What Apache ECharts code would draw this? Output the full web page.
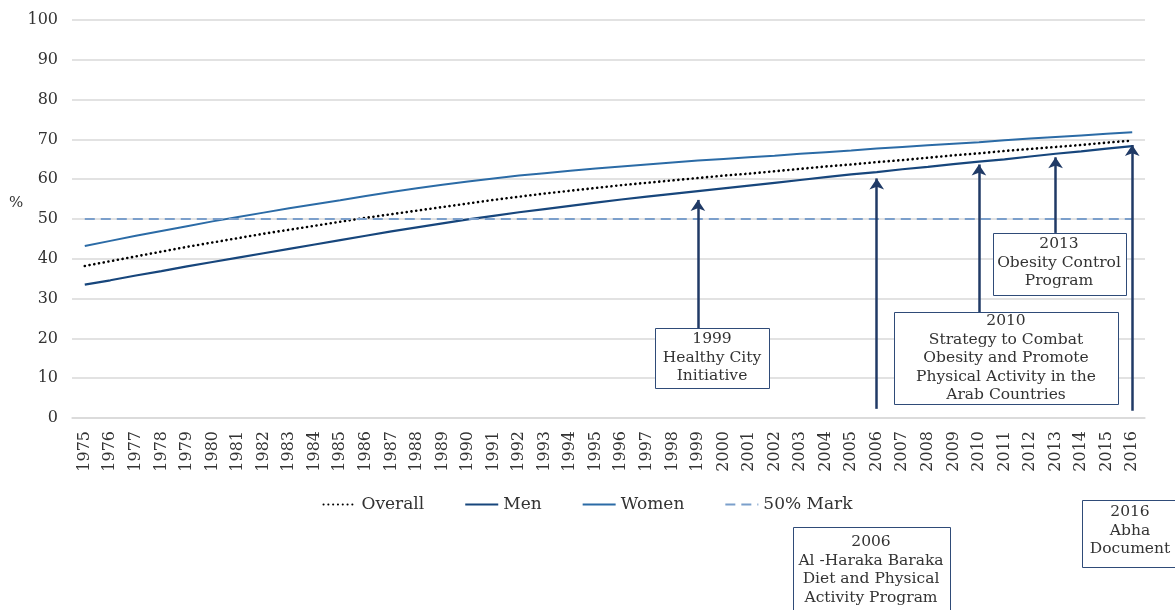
<!DOCTYPE html>
<html><head><meta charset="utf-8">
<script src="https://cdn.jsdelivr.net/npm/echarts@6/dist/echarts.min.js"></script>
<style>html,body{margin:0;padding:0;background:#fff}#c{width:1175px;height:610px}</style>
</head><body><div id="c"></div>
<script>
const years = ['1975','1976','1977','1978','1979','1980','1981','1982','1983','1984','1985','1986','1987','1988','1989','1990','1991','1992','1993','1994','1995','1996','1997','1998','1999','2000','2001','2002','2003','2004','2005','2006','2007','2008','2009','2010','2011','2012','2013','2014','2015','2016'];
const overall = [38.2,39.4,40.6,41.8,43.0,44.1,45.2,46.3,47.3,48.3,49.3,50.3,51.2,52.1,53.0,53.9,54.8,55.6,56.4,57.1,57.8,58.5,59.1,59.7,60.3,60.9,61.4,62.0,62.6,63.2,63.7,64.3,64.8,65.4,66.0,66.5,67.1,67.6,68.1,68.6,69.2,69.7];
const men = [33.5,34.6,35.8,36.9,38.1,39.2,40.3,41.4,42.5,43.6,44.7,45.8,46.9,47.9,48.9,49.9,50.8,51.7,52.5,53.3,54.1,54.9,55.6,56.3,57.0,57.7,58.4,59.1,59.8,60.5,61.2,61.8,62.5,63.1,63.8,64.4,65.0,65.7,66.4,67.0,67.7,68.3];
const women = [43.2,44.5,45.8,47.0,48.2,49.4,50.5,51.6,52.7,53.7,54.7,55.8,56.8,57.7,58.6,59.4,60.2,60.9,61.5,62.1,62.7,63.2,63.7,64.2,64.7,65.1,65.5,65.9,66.4,66.8,67.2,67.7,68.1,68.5,68.9,69.3,69.8,70.2,70.6,71.0,71.4,71.8];
const markLevel = 50;
const yTicks = [0,10,20,30,40,50,60,70,80,90,100];

const eventYears = ['1999','2006','2010','2013','2016'];
const eventTips  = [54.8, 60.2, 63.7, 65.5, 68.6];
const eventBases = [22.6, 2.3, 26.6, 46.5, 1.8];
const eventTexts = [
  '1999\nHealthy City\nInitiative',
  '2006\nAl -Haraka Baraka\nDiet and Physical\nActivity Program',
  '2010\nStrategy to Combat\nObesity and Promote\nPhysical Activity in the\nArab Countries',
  '2013\nObesity Control\nProgram',
  '2016\nAbha\nDocument'
];
// annotation box layout (pixels): [x, y, w, h, textCenterX, textTop]
const boxLayout = [
  [655,328,114,60,712,330],
  [793,527,157,90,871,533],
  [894,312,224,92,1006,312],
  [993,233,133,62,1059,235],
  [1082,500,100,67,1130,503]
];

const FONT = 'DejaVu Serif';
const TXT = '#333333';
const ARROW = '#203A66';

const chart = echarts.init(document.getElementById('c'), null, {renderer:'canvas'});

const arrowData = eventYears.map((y,i)=>[{coord:[y,eventBases[i]]},{coord:[y,eventTips[i]]}]);

const graphics = [{type:'text', left:9, top:196, style:{text:'%', font:'15px '+FONT, fill:TXT}}];
boxLayout.forEach((b,i)=>{
  graphics.push({type:'rect', shape:{x:b[0]+0.5,y:b[1]+0.5,width:b[2],height:b[3]}, style:{fill:'#fff', stroke:'#2F4B78', lineWidth:1}, z:100});
  graphics.push({type:'text', x:b[4], y:b[5], style:{text:eventTexts[i], font:'15.5px '+FONT, fill:TXT, align:'center', verticalAlign:'top', lineHeight:18.5}, z:101});
});

chart.setOption({
  animation:false,
  grid:{left:72, right:30, top:20, bottom:192},
  legend:{
    top:491, left:'center',
    itemWidth:33, itemHeight:14, itemGap:40,
    itemStyle:{opacity:0},
    textStyle:{fontFamily:FONT, fontSize:17, color:TXT},
    data:['Overall','Men','Women','50% Mark']
  },
  xAxis:{
    type:'category', data:years, boundaryGap:true,
    axisLine:{lineStyle:{color:'#d9d9d9', width:1.5}},
    axisTick:{show:false},
    axisLabel:{rotate:90, interval:0, fontFamily:FONT, fontSize:16, color:TXT, margin:13}
  },
  yAxis:{
    type:'value', min:yTicks[0], max:yTicks[yTicks.length-1], interval:10,
    axisLine:{show:false}, axisTick:{show:false},
    splitLine:{lineStyle:{color:'#d9d9d9', width:1.5}},
    axisLabel:{fontFamily:FONT, fontSize:16, color:TXT, margin:14}
  },
  series:[
    {name:'Overall', type:'line', data:overall, symbol:'none',
      lineStyle:{color:'#000', width:2.6, type:[0.1,4.7], cap:'round'}, itemStyle:{color:'#000'}, z:3},
    {name:'Men', type:'line', data:men, symbol:'none',
      lineStyle:{color:'#17467C', width:2.2}, itemStyle:{color:'#17467C'}, z:3},
    {name:'Women', type:'line', data:women, symbol:'none',
      lineStyle:{color:'#2B6BA6', width:2}, itemStyle:{color:'#2B6BA6'}, z:3},
    {name:'50% Mark', type:'line', data:[], symbol:'none',
      lineStyle:{color:'#7B9FCB', width:2, type:[10,6]}, itemStyle:{color:'#7B9FCB'}, z:2,
      markLine:{silent:true, symbol:'none', label:{show:false},
        lineStyle:{color:'#7B9FCB', width:2, type:[10,6]},
        data:[[{coord:[years[0],markLevel]},{coord:[years[years.length-1],markLevel]}]]}},
    {name:'events', type:'line', data:[], symbol:'none', z:5,
      markLine:{silent:true, symbol:['none','arrow'], symbolSize:11, label:{show:false},
        lineStyle:{color:ARROW, width:2.5, type:'solid'}, data:arrowData}}
  ],
  graphic:graphics
});
</script></body></html>
